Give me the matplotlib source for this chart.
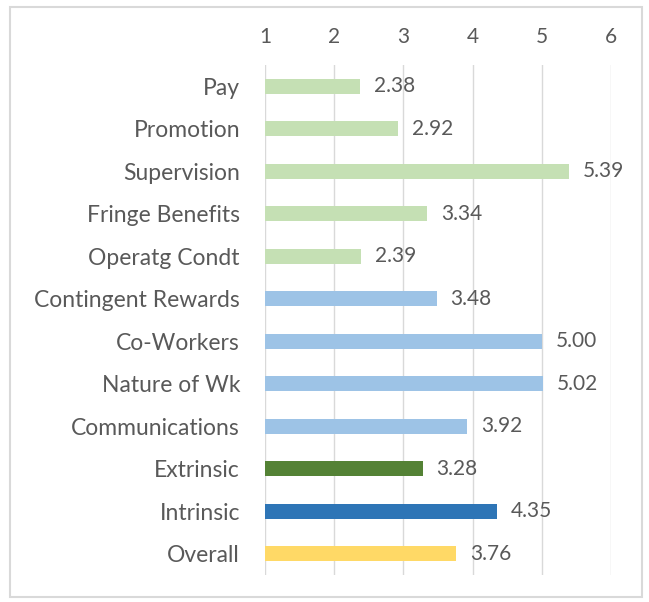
import matplotlib.pyplot as plt
from matplotlib.patches import Rectangle

categories = ['Pay', 'Promotion', 'Supervision', 'Fringe Benefits', 'Operatg Condt',
              'Contingent Rewards', 'Co-Workers', 'Nature of Wk', 'Communications',
              'Extrinsic', 'Intrinsic', 'Overall']
values = [2.38, 2.92, 5.39, 3.34, 2.39, 3.48, 5.00, 5.02, 3.92, 3.28, 4.35, 3.76]
colors = ['#C5E0B4'] * 5 + ['#9DC3E6'] * 4 + ['#548235', '#2E75B6', '#FFD966']
ticks = [1, 2, 3, 4, 5, 6]

plt.rcParams['font.family'] = ['Lato', 'DejaVu Sans']
txt = '#595959'

fig = plt.figure(figsize=(6.49, 6.02), dpi=100)
ax = fig.add_axes([265 / 649, 1 - 575 / 602, (611 - 265) / 649, (575 - 65) / 602])

ypos = list(range(len(categories)))
ax.barh(ypos, [v - 1 for v in values], left=1, height=0.36, color=colors, zorder=2)
for y, v in zip(ypos, values):
    ax.text(v + 0.2, y, f'{v:.2f}', va='center', ha='left', fontsize=15, color=txt)

ax.set_xlim(1, 6)
ax.set_ylim(len(categories) - 0.5, -0.5)
ax.set_xticks(ticks)
ax.set_yticks(ypos)
ax.set_yticklabels(categories, fontsize=16.5)
ax.xaxis.tick_top()
ax.tick_params(axis='both', length=0, colors=txt)
ax.tick_params(axis='x', pad=13, labelsize=15)
ax.tick_params(axis='y', pad=18)
ax.grid(axis='x', color='#D9D9D9', linewidth=1, zorder=0)
for s in ax.spines.values():
    s.set_visible(False)

fig.patches.append(Rectangle((10 / 649, 5 / 602), 632 / 649, 590 / 602,
                             transform=fig.transFigure, fill=False,
                             edgecolor='#D9D9D9', linewidth=1.5))

fig.savefig('out.png', dpi=100)
